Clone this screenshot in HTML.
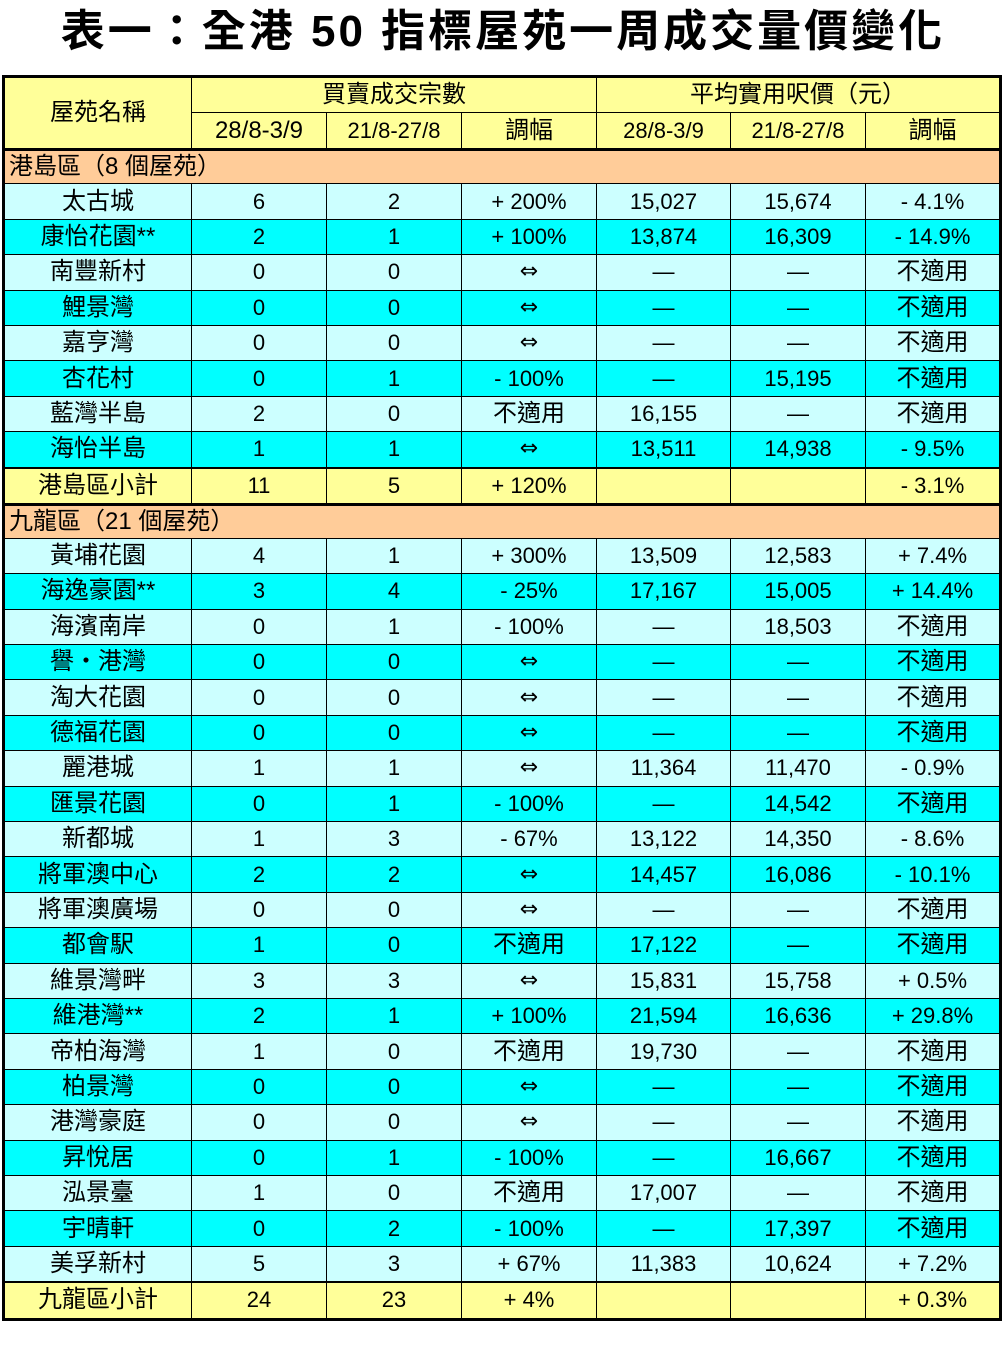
<!DOCTYPE html>
<html><head><meta charset="utf-8"><style>
body{margin:0;background:#fff;width:1006px;height:1359px;overflow:hidden;font-family:"Liberation Sans","Noto Sans CJK TC",sans-serif;}
h1{margin:0;position:absolute;top:3px;left:0;width:1006px;text-align:center;font-size:44px;font-weight:bold;line-height:58px;letter-spacing:3px;font-family:"Liberation Sans","Noto Sans CJK TC",sans-serif;}
table{position:absolute;left:2px;top:75px;border-collapse:collapse;table-layout:fixed;border:3px solid #000;}
td{border:1px solid #000;text-align:center;font-size:22px;padding:0;height:34.4px;line-height:30px;white-space:nowrap;overflow:hidden;}
td:first-child{font-size:24px;}
.c{font-size:24px;}
.d{font-family:"DejaVu Sans",sans-serif;font-size:22px;}
.h td{background:#FFFF99;}
.s td{background:#FFCC99;text-align:left;padding-left:4px;height:32px;border-top:3px solid #000;font-size:24px;}
.a td{background:#CCFFFF;}
.b td{background:#00FFFF;}
.t td{background:#FFFF99;border-top:2px solid #000;}
.hd td{border-bottom:3px solid #000;}
</style></head><body>
<h1>表一：全港 50 指標屋苑一周成交量價變化</h1>
<table>
<colgroup><col style="width:188px"><col style="width:135px"><col style="width:135px"><col style="width:135px"><col style="width:134px"><col style="width:135px"><col style="width:135px"></colgroup>
<tr class="h"><td rowspan="2">屋苑名稱</td><td colspan="3" class="c" style="height:31px">買賣成交宗數</td><td colspan="3" class="c">平均實用呎價（元）</td></tr>
<tr class="h hd"><td style="height:35px">28/8-3/9</td><td>21/8-27/8</td><td class="c">調幅</td><td>28/8-3/9</td><td>21/8-27/8</td><td class="c">調幅</td></tr>
<tr class="s"><td colspan="7">港島區（8 個屋苑）</td></tr>
<tr class="a"><td>太古城</td><td>6</td><td>2</td><td>+ 200%</td><td>15,027</td><td>15,674</td><td>- 4.1%</td></tr>
<tr class="b"><td>康怡花園**</td><td>2</td><td>1</td><td>+ 100%</td><td>13,874</td><td>16,309</td><td>- 14.9%</td></tr>
<tr class="a"><td>南豐新村</td><td>0</td><td>0</td><td class="d">⇔</td><td>—</td><td>—</td><td class="c">不適用</td></tr>
<tr class="b"><td>鯉景灣</td><td>0</td><td>0</td><td class="d">⇔</td><td>—</td><td>—</td><td class="c">不適用</td></tr>
<tr class="a"><td>嘉亨灣</td><td>0</td><td>0</td><td class="d">⇔</td><td>—</td><td>—</td><td class="c">不適用</td></tr>
<tr class="b"><td>杏花村</td><td>0</td><td>1</td><td>- 100%</td><td>—</td><td>15,195</td><td class="c">不適用</td></tr>
<tr class="a"><td>藍灣半島</td><td>2</td><td>0</td><td class="c">不適用</td><td>16,155</td><td>—</td><td class="c">不適用</td></tr>
<tr class="b"><td>海怡半島</td><td>1</td><td>1</td><td class="d">⇔</td><td>13,511</td><td>14,938</td><td>- 9.5%</td></tr>
<tr class="t"><td>港島區小計</td><td>11</td><td>5</td><td>+ 120%</td><td></td><td></td><td>- 3.1%</td></tr>
<tr class="s"><td colspan="7">九龍區（21 個屋苑）</td></tr>
<tr class="a"><td>黃埔花園</td><td>4</td><td>1</td><td>+ 300%</td><td>13,509</td><td>12,583</td><td>+ 7.4%</td></tr>
<tr class="b"><td>海逸豪園**</td><td>3</td><td>4</td><td>- 25%</td><td>17,167</td><td>15,005</td><td>+ 14.4%</td></tr>
<tr class="a"><td>海濱南岸</td><td>0</td><td>1</td><td>- 100%</td><td>—</td><td>18,503</td><td class="c">不適用</td></tr>
<tr class="b"><td>譽・港灣</td><td>0</td><td>0</td><td class="d">⇔</td><td>—</td><td>—</td><td class="c">不適用</td></tr>
<tr class="a"><td>淘大花園</td><td>0</td><td>0</td><td class="d">⇔</td><td>—</td><td>—</td><td class="c">不適用</td></tr>
<tr class="b"><td>德福花園</td><td>0</td><td>0</td><td class="d">⇔</td><td>—</td><td>—</td><td class="c">不適用</td></tr>
<tr class="a"><td>麗港城</td><td>1</td><td>1</td><td class="d">⇔</td><td>11,364</td><td>11,470</td><td>- 0.9%</td></tr>
<tr class="b"><td>匯景花園</td><td>0</td><td>1</td><td>- 100%</td><td>—</td><td>14,542</td><td class="c">不適用</td></tr>
<tr class="a"><td>新都城</td><td>1</td><td>3</td><td>- 67%</td><td>13,122</td><td>14,350</td><td>- 8.6%</td></tr>
<tr class="b"><td>將軍澳中心</td><td>2</td><td>2</td><td class="d">⇔</td><td>14,457</td><td>16,086</td><td>- 10.1%</td></tr>
<tr class="a"><td>將軍澳廣場</td><td>0</td><td>0</td><td class="d">⇔</td><td>—</td><td>—</td><td class="c">不適用</td></tr>
<tr class="b"><td>都會駅</td><td>1</td><td>0</td><td class="c">不適用</td><td>17,122</td><td>—</td><td class="c">不適用</td></tr>
<tr class="a"><td>維景灣畔</td><td>3</td><td>3</td><td class="d">⇔</td><td>15,831</td><td>15,758</td><td>+ 0.5%</td></tr>
<tr class="b"><td>維港灣**</td><td>2</td><td>1</td><td>+ 100%</td><td>21,594</td><td>16,636</td><td>+ 29.8%</td></tr>
<tr class="a"><td>帝柏海灣</td><td>1</td><td>0</td><td class="c">不適用</td><td>19,730</td><td>—</td><td class="c">不適用</td></tr>
<tr class="b"><td>柏景灣</td><td>0</td><td>0</td><td class="d">⇔</td><td>—</td><td>—</td><td class="c">不適用</td></tr>
<tr class="a"><td>港灣豪庭</td><td>0</td><td>0</td><td class="d">⇔</td><td>—</td><td>—</td><td class="c">不適用</td></tr>
<tr class="b"><td>昇悅居</td><td>0</td><td>1</td><td>- 100%</td><td>—</td><td>16,667</td><td class="c">不適用</td></tr>
<tr class="a"><td>泓景臺</td><td>1</td><td>0</td><td class="c">不適用</td><td>17,007</td><td>—</td><td class="c">不適用</td></tr>
<tr class="b"><td>宇晴軒</td><td>0</td><td>2</td><td>- 100%</td><td>—</td><td>17,397</td><td class="c">不適用</td></tr>
<tr class="a"><td>美孚新村</td><td>5</td><td>3</td><td>+ 67%</td><td>11,383</td><td>10,624</td><td>+ 7.2%</td></tr>
<tr class="t"><td>九龍區小計</td><td>24</td><td>23</td><td>+ 4%</td><td></td><td></td><td>+ 0.3%</td></tr>
</table>
</body></html>
